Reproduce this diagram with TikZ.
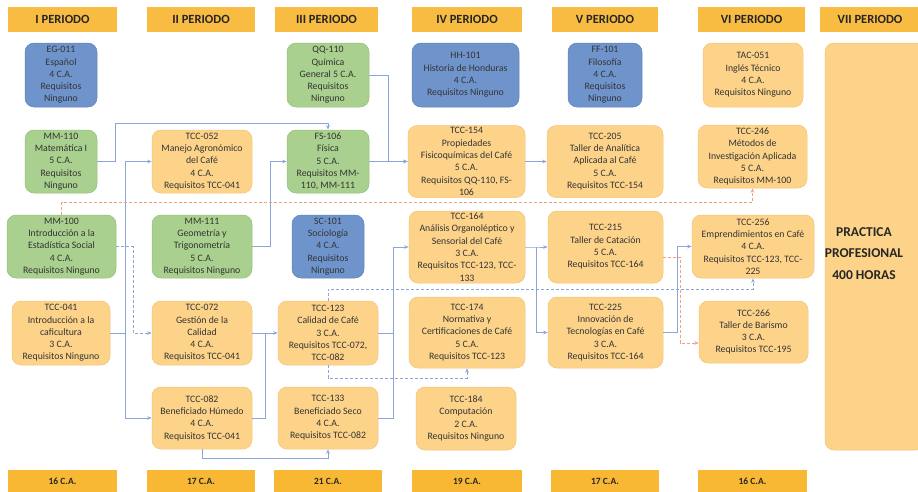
\documentclass[tikz,border=0pt]{standalone}
\usepackage{fontspec}
\setmainfont{Carlito}
\usetikzlibrary{arrows.meta}
\definecolor{bluF}{HTML}{6F94CC}
\definecolor{bluD}{HTML}{5F83BA}
\definecolor{grnF}{HTML}{A9D08E}
\definecolor{grnD}{HTML}{97C07B}
\definecolor{orgF}{HTML}{FDD38A}
\definecolor{orgD}{HTML}{F3C374}
\definecolor{hdrF}{HTML}{F9BC43}
\definecolor{ftrF}{HTML}{F8B833}
\definecolor{txt}{HTML}{333333}
\definecolor{lnB}{HTML}{8AA6D8}
\definecolor{lnO}{HTML}{EFA17E}
\tikzset{
  bx/.style={rounded corners=9pt, align=center, inner sep=0pt, text=txt,
    font=\fontsize{9.8}{12.3}\selectfont, line width=0.5pt},
  blu/.style={bx, fill=bluF, draw=bluD},
  grn/.style={bx, fill=grnF, draw=grnD},
  org/.style={bx, fill=orgF, draw=orgD},
  hdr/.style={fill=hdrF, minimum height=25pt, inner sep=0pt, text=black!85,
    font=\fontsize{12.5}{14}\selectfont\bfseries},
  ftr/.style={fill=ftrF, minimum height=22pt, inner sep=0pt, text=black!85,
    font=\fontsize{9.5}{11}\selectfont\bfseries},
  conn/.style={draw=lnB, line width=0.8pt, -{Stealth[length=4.5pt,width=3.5pt]}},
  link/.style={draw=lnB, line width=0.8pt},
  dashB/.style={draw=lnB, line width=0.8pt, dash pattern=on 3pt off 2pt, -{Stealth[length=4.5pt,width=3.5pt]}},
  dashO/.style={draw=lnO, line width=0.8pt, dash pattern=on 3pt off 2pt, -{Stealth[length=4.5pt,width=3.5pt]}},
}
\begin{document}
\begin{tikzpicture}[x=1pt,y=-1pt]
\useasboundingbox (0,0) rectangle (918,491);
\clip (0,0) rectangle (918,491);

% headers
\node[hdr, minimum width=109pt] (h1) at (62.5,19.5) {I PERIODO};
\node[hdr, minimum width=108pt] (h2) at (201,19.5) {II PERIODO};
\node[hdr, minimum width=103pt] (h3) at (326.5,19.5) {III PERIODO};
\node[hdr, minimum width=110pt] (h4) at (467,19.5) {IV PERIODO};
\node[hdr, minimum width=106pt] (h5) at (605,19.5) {V PERIODO};
\node[hdr, minimum width=107pt] (h6) at (751.5,19.5) {VI PERIODO};
\node[hdr, minimum width=100pt] (h7) at (870,19.5) {VII PERIODO};

% footers
\node[ftr, minimum width=109pt] (f1) at (62.5,481) {16 C.A.};
\node[ftr, minimum width=108pt] (f2) at (201,481) {17 C.A.};
\node[ftr, minimum width=108pt] (f3) at (328,481) {21 C.A.};
\node[ftr, minimum width=110pt] (f4) at (467,481) {19 C.A.};
\node[ftr, minimum width=108pt] (f5) at (605,481) {17 C.A.};
\node[ftr, minimum width=109pt] (f6) at (752.5,481) {16 C.A.};

% column I
\node[blu, minimum width=72pt, minimum height=64pt] (eg011) at (61,75) {EG-011\\Español\\4 C.A.\\Requisitos\\Ninguno};
\node[grn, minimum width=72pt, minimum height=63pt] (mm110) at (61,161.5) {MM-110\\Matemática I\\5 C.A.\\Requisitos\\Ninguno};
\node[grn, minimum width=109pt, minimum height=63pt] (mm100) at (61.5,246.5) {MM-100\\Introducción a la\\Estadística Social\\4 C.A.\\Requisitos Ninguno};
\node[org, minimum width=98pt, minimum height=64pt] (tcc041) at (61,333) {TCC-041\\Introducción a la\\caficultura\\3 C.A.\\Requisitos Ninguno};

% column II
\node[org, minimum width=100pt, minimum height=63pt] (tcc052) at (202,161.5) {TCC-052\\Manejo Agronómico\\del Café\\4 C.A.\\Requisitos TCC-041};
\node[grn, minimum width=100pt, minimum height=63pt] (mm111) at (202,246.5) {MM-111\\Geometría y\\Trigonometría\\5 C.A.\\Requisitos Ninguno};
\node[org, minimum width=100pt, minimum height=64pt] (tcc072) at (202,333) {TCC-072\\Gestión de la\\Calidad\\4 C.A.\\Requisitos TCC-041};
\node[org, minimum width=100pt, minimum height=62pt] (tcc082) at (202,418) {TCC-082\\Beneficiado Húmedo\\4 C.A.\\Requisitos TCC-041};

% column III
\node[grn, minimum width=82pt, minimum height=64pt] (qq110) at (328,75) {QQ-110\\Química\\General 5 C.A.\\Requisitos\\Ninguno};
\node[grn, minimum width=82pt, minimum height=63pt] (fs106) at (328,161.5) {FS-106\\Física\\5 C.A.\\Requisitos MM-\\110, MM-111};
\node[blu, minimum width=72pt, minimum height=63pt] (sc101) at (328,246.5) {SC-101\\Sociología\\4 C.A.\\Requisitos\\Ninguno};
\node[org, minimum width=100pt, minimum height=64pt] (tcc123) at (328,333) {TCC-123\\Calidad de Café\\3 C.A.\\Requisitos TCC-072,\\TCC-082};
\node[org, minimum width=100pt, minimum height=62pt] (tcc133) at (328,418) {TCC-133\\Beneficiado Seco\\4 C.A.\\Requisitos TCC-082};

% column IV
\node[blu, minimum width=107pt, minimum height=64pt] (hh101) at (465.5,75) {HH-101\\Historia de Honduras\\4 C.A.\\Requisitos Ninguno};
\node[org, minimum width=117pt, minimum height=72pt] (tcc154) at (466.5,161.5) {TCC-154\\Propiedades\\Fisicoquímicas del Café\\5 C.A.\\Requisitos QQ-110, FS-\\106};
\node[org, minimum width=116pt, minimum height=72pt] (tcc164) at (467,247) {TCC-164\\Análisis Organoléptico y\\Sensorial del Café\\3 C.A.\\Requisitos TCC-123, TCC-\\133};
\node[org, minimum width=116pt, minimum height=71pt] (tcc174) at (467,332.5) {TCC-174\\Normativa y\\Certificaciones de Café\\5 C.A.\\Requisitos TCC-123};
\node[org, minimum width=100pt, minimum height=63pt] (tcc184) at (466,418.5) {TCC-184\\Computación\\2 C.A.\\Requisitos Ninguno};

% column V
\node[blu, minimum width=74pt, minimum height=64pt] (ff101) at (605,75) {FF-101\\Filosofía\\4 C.A.\\Requisitos\\Ninguno};
\node[org, minimum width=116pt, minimum height=72pt] (tcc205) at (605,161.5) {TCC-205\\Taller de Analítica\\Aplicada al Café\\5 C.A.\\Requisitos TCC-154};
\node[org, minimum width=115pt, minimum height=72pt] (tcc215) at (605.5,247) {TCC-215\\Taller de Catación\\5 C.A.\\Requisitos TCC-164};
\node[org, minimum width=115pt, minimum height=71pt] (tcc225) at (605.5,332.5) {TCC-225\\Innovación de\\Tecnologías en Café\\3 C.A.\\Requisitos TCC-164};

% column VI
\node[org, minimum width=100pt, minimum height=64pt] (tac051) at (753,75) {TAC-051\\Inglés Técnico\\4 C.A.\\Requisitos Ninguno};
\node[org, minimum width=109pt, minimum height=63pt] (tcc246) at (752.5,156.5) {TCC-246\\Métodos de\\Investigación Aplicada\\5 C.A.\\Requisitos MM-100};
\node[org, minimum width=122pt, minimum height=63pt] (tcc256) at (753,246.5) {TCC-256\\Emprendimientos en Café\\4 C.A.\\Requisitos TCC-123, TCC-\\225};
\node[org, minimum width=109pt, minimum height=62pt] (tcc266) at (753.5,332) {TCC-266\\Taller de Barismo\\3 C.A.\\Requisitos TCC-195};

% column VII
\node[org, minimum width=100pt, minimum height=407pt] (pp) at (875,246.5) {};
\node[align=center, text=black!85, font=\fontsize{13.5}{21.5}\selectfont\bfseries] (pptext) at (864,253.5) {PRACTICA\\PROFESIONAL\\400 HORAS};

% junction coordinates
\coordinate (j41) at (125,333);
\coordinate (j123) at (393,333);
\coordinate (j164) at (536,247);

% connectors
\draw[conn] (mm110.east) -- (115,161.5) -- (115,123) -| (fs106.north);
\draw[link] (tcc041.east) -- (j41);
\draw[conn] (j41) |- (tcc052.west);
\draw[conn] (j41) |- (tcc082.west);
\draw[conn] (mm111.east) -- (270,246.5) |- (fs106.west);
\draw[conn] (qq110.east) -- (388,75) |- (tcc154.west);
\draw[conn] (fs106.east) -- (tcc154.west);
\draw[conn] (tcc072.east) -- (tcc123.west);
\draw[link] (tcc082.east) -- (265,418) -- (265,333);
\draw[conn] (tcc082.south) -- (202,458) -| (tcc133.south);
\draw[link] (tcc123.east) -- (j123);
\draw[conn] (tcc133.east) -- (393,418) |- (tcc164.west);
\draw[dashB] (tcc123.north) -- (328,289) -| (tcc256.south);
\draw[dashB] (tcc123.south) -- (328,378) -| (tcc174.south);
\draw[conn] (tcc154.east) -- (tcc205.west);
\draw[conn] (tcc164.east) -- (j164) -- (tcc215.west);
\draw[conn] (j164) |- (tcc225.west);
\draw[conn] (tcc225.east) -- (677,332.5) |- (tcc256.west);
\draw[dashO] ([yshift=-10pt]tcc215.east) -- (680,257) |- ([yshift=-11pt]tcc266.west);
\draw[dashO] (mm100.north) -- (61.5,202) -| (tcc246.south);
\draw[dashB] (mm100.east) -- (133,246.5) |- (tcc072.west);
\end{tikzpicture}
\end{document}
